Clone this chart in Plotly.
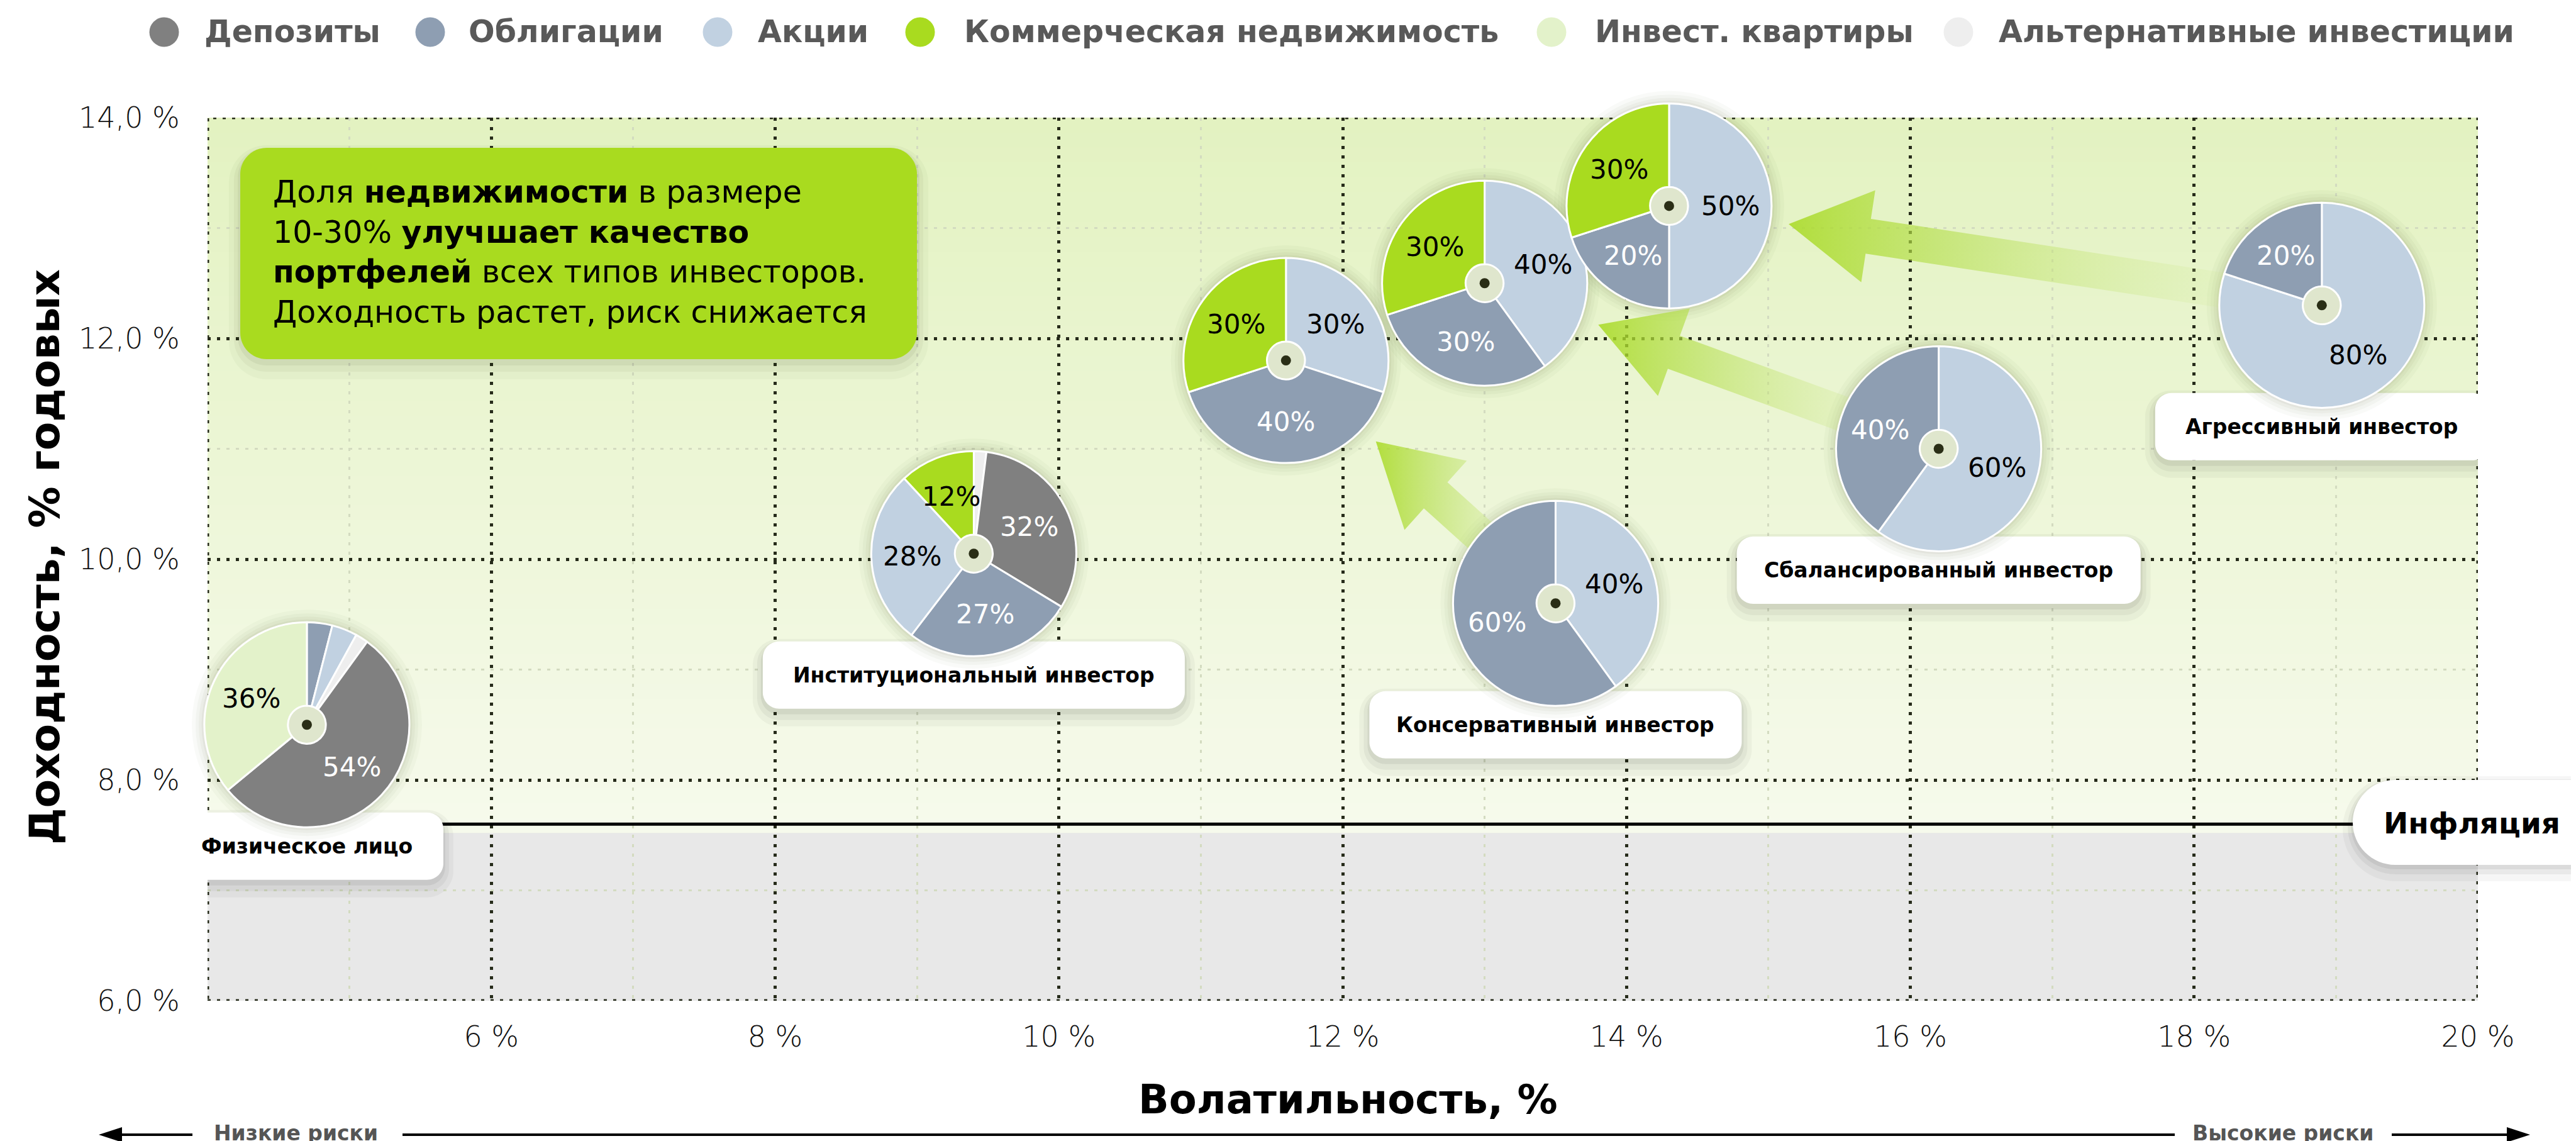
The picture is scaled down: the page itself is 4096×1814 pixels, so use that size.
import math
import plotly.graph_objects as go

# ---------------- data ----------------
categories = ['Депозиты', 'Облигации', 'Акции', 'Коммерческая недвижимость',
              'Инвест. квартиры', 'Альтернативные инвестиции']
cat_colors = ['#808080', '#8e9eb2', '#c1d1e1', '#a9db1f', '#e3f2ca', '#eeeeee']
cat_text_colors = ['white', 'white', 'black', 'black', 'black', 'black']

investor_names = ['Физическое лицо', 'Институциональный инвестор', '', '', '',
                  'Консервативный инвестор', 'Сбалансированный инвестор', 'Агрессивный инвестор']
volatility = [4.7, 9.4, 11.6, 13.0, 14.3, 13.5, 16.2, 18.9]
returns = [8.5, 10.05, 11.8, 12.5, 13.2, 9.6, 11.0, 12.3]
slice_categories = [
    [1, 2, 5, 0, 4],
    [5, 0, 1, 2, 3],
    [2, 1, 3],
    [2, 1, 3],
    [2, 1, 3],
    [2, 1],
    [2, 1],
    [2, 1],
]
slice_values = [
    [4, 4, 2, 54, 36],
    [2, 32, 27, 28, 12],
    [30, 40, 30],
    [40, 30, 30],
    [50, 20, 30],
    [40, 60],
    [60, 40],
    [80, 20],
]
arrow_from = [5, 6, 7]
arrow_to = [2, 3, 4]
inflation = 7.6
x_tickvals = [4, 6, 8, 10, 12, 14, 16, 18, 20]
x_ticktext = ['', '6 %', '8 %', '10 %', '12 %', '14 %', '16 %', '18 %', '20 %']
y_tickvals = [6, 8, 10, 12, 14]
y_ticktext = ['6,0 %', '8,0 %', '10,0 %', '12,0 %', '14,0 %']

# ---------------- layout geometry / styles ----------------
W, H = 4096, 1814
XL, XR, YT, YB = 322, 3932, 179, 1583
X_RANGE = [4, 20]
Y_RANGE = [6, 14]
FONT = 'DejaVu Sans'
R = 163
HOLE = 0.185
MAJOR = '#262b1a'
MINOR = '#d3dbc0'
label_box_w = [434, 671, 0, 0, 0, 592, 642, 530]
LABEL_DY = 193
LABEL_BOX_H = 107

kx = (XR - XL) / (X_RANGE[1] - X_RANGE[0])
ky = (YB - YT) / (Y_RANGE[1] - Y_RANGE[0])


def xpx(v):
    return XL + (v - X_RANGE[0]) * kx


def ypx(v):
    return YB - (v - Y_RANGE[0]) * ky


def xdat(p):
    return X_RANGE[0] + (p - XL) / kx


def ydat(p):
    return Y_RANGE[0] + (YB - p) / ky


def xp(p):
    return p / W


def yp(p):
    return 1 - p / H


def rounded_path(x0, y0, x1, y1, r, fx, fy):
    k = 0.5523 * r
    segs = [
        ('M', [(x0 + r, y0)]),
        ('L', [(x1 - r, y0)]),
        ('C', [(x1 - r + k, y0), (x1, y0 + r - k), (x1, y0 + r)]),
        ('L', [(x1, y1 - r)]),
        ('C', [(x1, y1 - r + k), (x1 - r + k, y1), (x1 - r, y1)]),
        ('L', [(x0 + r, y1)]),
        ('C', [(x0 + r - k, y1), (x0, y1 - r + k), (x0, y1 - r)]),
        ('L', [(x0, y0 + r)]),
        ('C', [(x0, y0 + r - k), (x0 + r - k, y0), (x0 + r, y0)]),
    ]
    out = []
    for cmd, pts in segs:
        out.append(cmd + ' '.join(f'{fx(a):.6f},{fy(b):.6f}' for a, b in pts))
    return ' '.join(out) + ' Z'


fig = go.Figure()
shapes = []
annotations = []

# ---- background: green gradient above inflation band, gray below ----
top_c = (227, 242, 193)
bot_c = (246, 250, 236)
n_bands = 48
g_lo, g_hi = 7.52, Y_RANGE[1]
for j in range(n_bands):
    t = j / (n_bands - 1)
    c = tuple(round(bot_c[i] + (top_c[i] - bot_c[i]) * t) for i in range(3))
    y0 = g_lo + (g_hi - g_lo) * j / n_bands
    y1 = g_lo + (g_hi - g_lo) * (j + 1) / n_bands + 0.01
    shapes.append(dict(type='rect', xref='x', yref='y', x0=X_RANGE[0], x1=X_RANGE[1],
                       y0=y0, y1=min(y1, g_hi), fillcolor=f'rgb{c}', line_width=0, layer='below'))
shapes.append(dict(type='rect', xref='x', yref='y', x0=X_RANGE[0], x1=X_RANGE[1],
                   y0=Y_RANGE[0], y1=g_lo, fillcolor='#e8e8e8', line_width=0, layer='below'))

# ---- dotted frame ----
shapes.append(dict(type='rect', xref='x', yref='y', x0=X_RANGE[0], x1=X_RANGE[1],
                   y0=Y_RANGE[0], y1=Y_RANGE[1], fillcolor='rgba(0,0,0,0)',
                   line=dict(color=MAJOR, width=5, dash='5px,10px'), layer='between'))

# ---- inflation line ----
shapes.append(dict(type='line', xref='x', yref='y', x0=X_RANGE[0], x1=X_RANGE[1],
                   y0=inflation, y1=inflation, line=dict(color='black', width=5), layer='between'))

# ---- label boxes under pies ----
for i, name in enumerate(investor_names):
    if not name:
        continue
    w = label_box_w[i]
    cx0, cy0 = -w / 2, LABEL_DY - LABEL_BOX_H / 2
    cx1, cy1 = w / 2, LABEL_DY + LABEL_BOX_H / 2
    for grow, down, a in [(16, 12, 0.035), (9, 9, 0.045), (3, 6, 0.06)]:
        shapes.append(dict(type='path', xref='x', yref='y', xsizemode='pixel', ysizemode='pixel',
                           xanchor=volatility[i], yanchor=returns[i],
                           path=rounded_path(cx0 - grow, cy0 - grow + down, cx1 + grow, cy1 + grow + down,
                                             26 + grow, lambda p: p, lambda p: -p),
                           fillcolor=f'rgba(0,0,0,{a})', line_width=0, layer='between'))
    shapes.append(dict(type='path', xref='x', yref='y', xsizemode='pixel', ysizemode='pixel',
                       xanchor=volatility[i], yanchor=returns[i],
                       path=rounded_path(cx0, cy0, cx1, cy1, 26, lambda p: p, lambda p: -p),
                       fillcolor='white', line_width=0, layer='between'))
    annotations.append(dict(xref='x', yref='y', x=volatility[i], y=returns[i], yshift=-LABEL_DY,
                            text=name, showarrow=False, xanchor='center', yanchor='middle',
                            font=dict(family=FONT, size=33, color='black', weight=700)))

# ---- green note box ----
gx0, gy0, gx1, gy1 = 374, 227, 1450, 563
for grow, down, a in [(18, 14, 0.03), (10, 10, 0.045), (4, 6, 0.06)]:
    shapes.append(dict(type='path', xref='paper', yref='paper',
                       path=rounded_path(gx0 - grow, gy0 - grow + down, gx1 + grow, gy1 + grow + down,
                                         42 + grow, xp, yp),
                       fillcolor=f'rgba(40,50,10,{a})', line_width=0, layer='above'))
shapes.append(dict(type='path', xref='paper', yref='paper',
                   path=rounded_path(gx0, gy0, gx1, gy1, 42, xp, yp),
                   fillcolor='#a9db1f', line_width=0, layer='above'))
annotations.append(dict(xref='paper', yref='paper', x=xp(424), y=yp(393), xanchor='left', yanchor='middle',
                        align='left', showarrow=False,
                        text='Доля <b>недвижимости</b> в размере<br>10-30% <b>улучшает качество</b><br>'
                             '<b>портфелей</b> всех типов инвесторов.<br>Доходность растет, риск снижается',
                        font=dict(family=FONT, size=49, color='black')))

# ---- inflation pill ----
px0, py0, px1, py1 = 3733, 1232, 4200, 1367
for grow, down, a in [(16, 10, 0.035), (8, 7, 0.05), (3, 4, 0.06)]:
    shapes.append(dict(type='path', xref='paper', yref='paper',
                       path=rounded_path(px0 - grow, py0 - grow + down, px1, py1 + grow + down,
                                         (py1 - py0) / 2 + grow, xp, yp),
                       fillcolor=f'rgba(0,0,0,{a})', line_width=0, layer='above'))
shapes.append(dict(type='path', xref='paper', yref='paper',
                   path=rounded_path(px0, py0, px1, py1, (py1 - py0) / 2, xp, yp),
                   fillcolor='white', line_width=0, layer='above'))
annotations.append(dict(xref='paper', yref='paper', x=xp(3780), y=yp(1300), xanchor='left', yanchor='middle',
                        showarrow=False, text='<b>Инфляция</b>',
                        font=dict(family=FONT, size=47, color='black')))

# ---- legend (manual) ----
leg_cx = [253, 676, 1133, 1455, 2459, 3106]
leg_tx = [315, 735, 1195, 1523, 2526, 3168]
leg_y = 43
leg_r = 23.5
for k, cat in enumerate(categories):
    shapes.append(dict(type='circle', xref='paper', yref='paper',
                       x0=xp(leg_cx[k] - leg_r), x1=xp(leg_cx[k] + leg_r),
                       y0=yp(leg_y + leg_r), y1=yp(leg_y - leg_r),
                       fillcolor=cat_colors[k], line_width=0, layer='above'))
    annotations.append(dict(xref='paper', yref='paper', x=xp(leg_tx[k]), y=yp(leg_y), xanchor='left',
                            yanchor='middle', showarrow=False, text=cat,
                            font=dict(family=FONT, size=49, color='#595959', weight=700)))

# ---- risk arrow line at the bottom ----
ry = 1796
for a0, a1 in [(170, 298), (632, 3450), (3795, 3990)]:
    shapes.append(dict(type='line', xref='paper', yref='paper', x0=xp(a0), x1=xp(a1), y0=yp(ry), y1=yp(ry),
                       line=dict(color='black', width=4), layer='above'))
for tip, base in [(149, 186), (4015, 3978)]:
    shapes.append(dict(type='path', xref='paper', yref='paper',
                       path=f'M{xp(tip):.6f},{yp(ry):.6f} L{xp(base):.6f},{yp(ry - 12):.6f} '
                            f'L{xp(base):.6f},{yp(ry + 12):.6f} Z',
                       fillcolor='black', line_width=0, layer='above'))
for txt, cxr in [('Низкие риски', 462), ('Высокие риски', 3622)]:
    annotations.append(dict(xref='paper', yref='paper', x=xp(cxr), y=yp(1793), xanchor='center',
                            yanchor='middle', showarrow=False, text=txt,
                            font=dict(family=FONT, size=33, color='#555555', weight=700)))

# ---- axis titles ----
annotations.append(dict(xref='paper', yref='paper', x=xp(2135), y=yp(1740), xanchor='center',
                        yanchor='middle', showarrow=False, text='<b>Волатильность, %</b>',
                        font=dict(family=FONT, size=64, color='black')))
annotations.append(dict(xref='paper', yref='paper', x=xp(64), y=yp(878), xanchor='center',
                        yanchor='middle', showarrow=False, text='<b>Доходность, % годовых</b>',
                        textangle=-90, font=dict(family=FONT, size=66, color='black')))

# ---- pie shadows (scatter markers) ----
for grow, a in [(40, 0.03), (28, 0.035), (18, 0.04), (9, 0.05)]:
    fig.add_trace(go.Scatter(x=volatility, y=returns, mode='markers', hoverinfo='skip', cliponaxis=False,
                             marker=dict(size=2 * R + grow, color=f'rgba(70,85,30,{a})', line_width=0),
                             showlegend=False))

# ---- arrows (from initial portfolio to the one with real estate) ----
for f, t in zip(arrow_from, arrow_to):
    ox, oy = xpx(volatility[f]), ypx(returns[f])
    tx, ty = xpx(volatility[t]), ypx(returns[t])
    d = math.hypot(ox - tx, oy - ty)
    ux, uy = (ox - tx) / d, (oy - ty) / d
    nx, ny = -uy, ux
    tipx, tipy = tx + ux * 1.18 * R, ty + uy * 1.18 * R
    bx, by = tipx + ux * 128, tipy + uy * 128
    hw, sw = 74, 28
    pts = [(tipx, tipy), (bx + nx * hw, by + ny * hw), (bx + nx * sw, by + ny * sw),
           (ox + nx * sw, oy + ny * sw), (ox - nx * sw, oy - ny * sw),
           (bx - nx * sw, by - ny * sw), (bx - nx * hw, by - ny * hw), (tipx, tipy)]
    fig.add_trace(go.Scatter(x=[xdat(p[0]) for p in pts], y=[ydat(p[1]) for p in pts],
                             mode='none', fill='toself', hoverinfo='skip', showlegend=False,
                             fillgradient=dict(type='horizontal',
                                               colorscale=[[0, 'rgba(168,218,35,0.85)'],
                                                           [0.3, 'rgba(182,223,80,0.62)'],
                                                           [0.75, 'rgba(205,232,140,0.2)'],
                                                           [1, 'rgba(215,236,165,0.0)']])))

# ---- hole fill and centre dot ----
fig.add_trace(go.Scatter(x=volatility, y=returns, mode='markers', hoverinfo='skip', showlegend=False,
                         marker=dict(size=2 * R * HOLE + 2, color='#dfe6cd', line_width=0)))
fig.add_trace(go.Scatter(x=volatility, y=returns, mode='markers', hoverinfo='skip', showlegend=False,
                         marker=dict(size=16, color='#2a2e16', line_width=0)))

# ---- pies ----
for i in range(len(volatility)):
    cx, cy = xpx(volatility[i]), ypx(returns[i])
    cats = slice_categories[i]
    vals = slice_values[i]
    fig.add_trace(go.Pie(
        values=vals, labels=[categories[c] for c in cats],
        marker=dict(colors=[cat_colors[c] for c in cats], line=dict(color='white', width=3)),
        sort=False, direction='clockwise', rotation=0, hole=HOLE,
        textinfo='none', hoverinfo='skip', showlegend=False, automargin=False,
        domain=dict(x=[xp(cx - R), xp(cx + R)], y=[yp(cy + R), yp(cy - R)])))
    total = sum(vals)
    acc = 0
    for c, v in zip(cats, vals):
        mid = (acc + v / 2) / total * 2 * math.pi
        acc += v
        if v < 10:
            continue
        annotations.append(dict(xref='x', yref='y', x=volatility[i], y=returns[i],
                                xshift=0.6 * R * math.sin(mid), yshift=0.6 * R * math.cos(mid),
                                text=f'{v}%', showarrow=False, xanchor='center', yanchor='middle',
                                font=dict(family=FONT, size=42, color=cat_text_colors[c])))

fig.update_layout(
    template='none',
    width=W, height=H, autosize=False, margin=dict(l=0, r=0, t=0, b=0, pad=0, autoexpand=False),
    paper_bgcolor='white', plot_bgcolor='#eef6dc', showlegend=False,
    font=dict(family=FONT),
    shapes=shapes, annotations=annotations,
    xaxis=dict(domain=[XL / W, XR / W], range=X_RANGE, tickmode='array', tickvals=x_tickvals,
               ticktext=x_ticktext, showgrid=True, gridcolor=MAJOR, griddash='5px,10px', gridwidth=5,
               minor=dict(dtick=1, tick0=4, showgrid=True, gridcolor=MINOR, gridwidth=3),
               zeroline=False, showline=False, ticks='outside', ticklen=17, automargin=False,
               tickcolor='rgba(0,0,0,0)',
               tickfont=dict(family=FONT, size=46, color='#111111', weight=200), fixedrange=True),
    yaxis=dict(domain=[1 - YB / H, 1 - YT / H], range=Y_RANGE, tickmode='array', tickvals=y_tickvals,
               ticktext=y_ticktext, showgrid=True, gridcolor=MAJOR, griddash='5px,10px', gridwidth=5,
               minor=dict(dtick=1, tick0=6, showgrid=True, gridcolor=MINOR, gridwidth=3),
               zeroline=False, showline=False, ticks='outside', ticklen=34, automargin=False,
               tickcolor='rgba(0,0,0,0)',
               tickfont=dict(family=FONT, size=46, color='#111111', weight=200), fixedrange=True),
)

fig.write_html('out.html')
